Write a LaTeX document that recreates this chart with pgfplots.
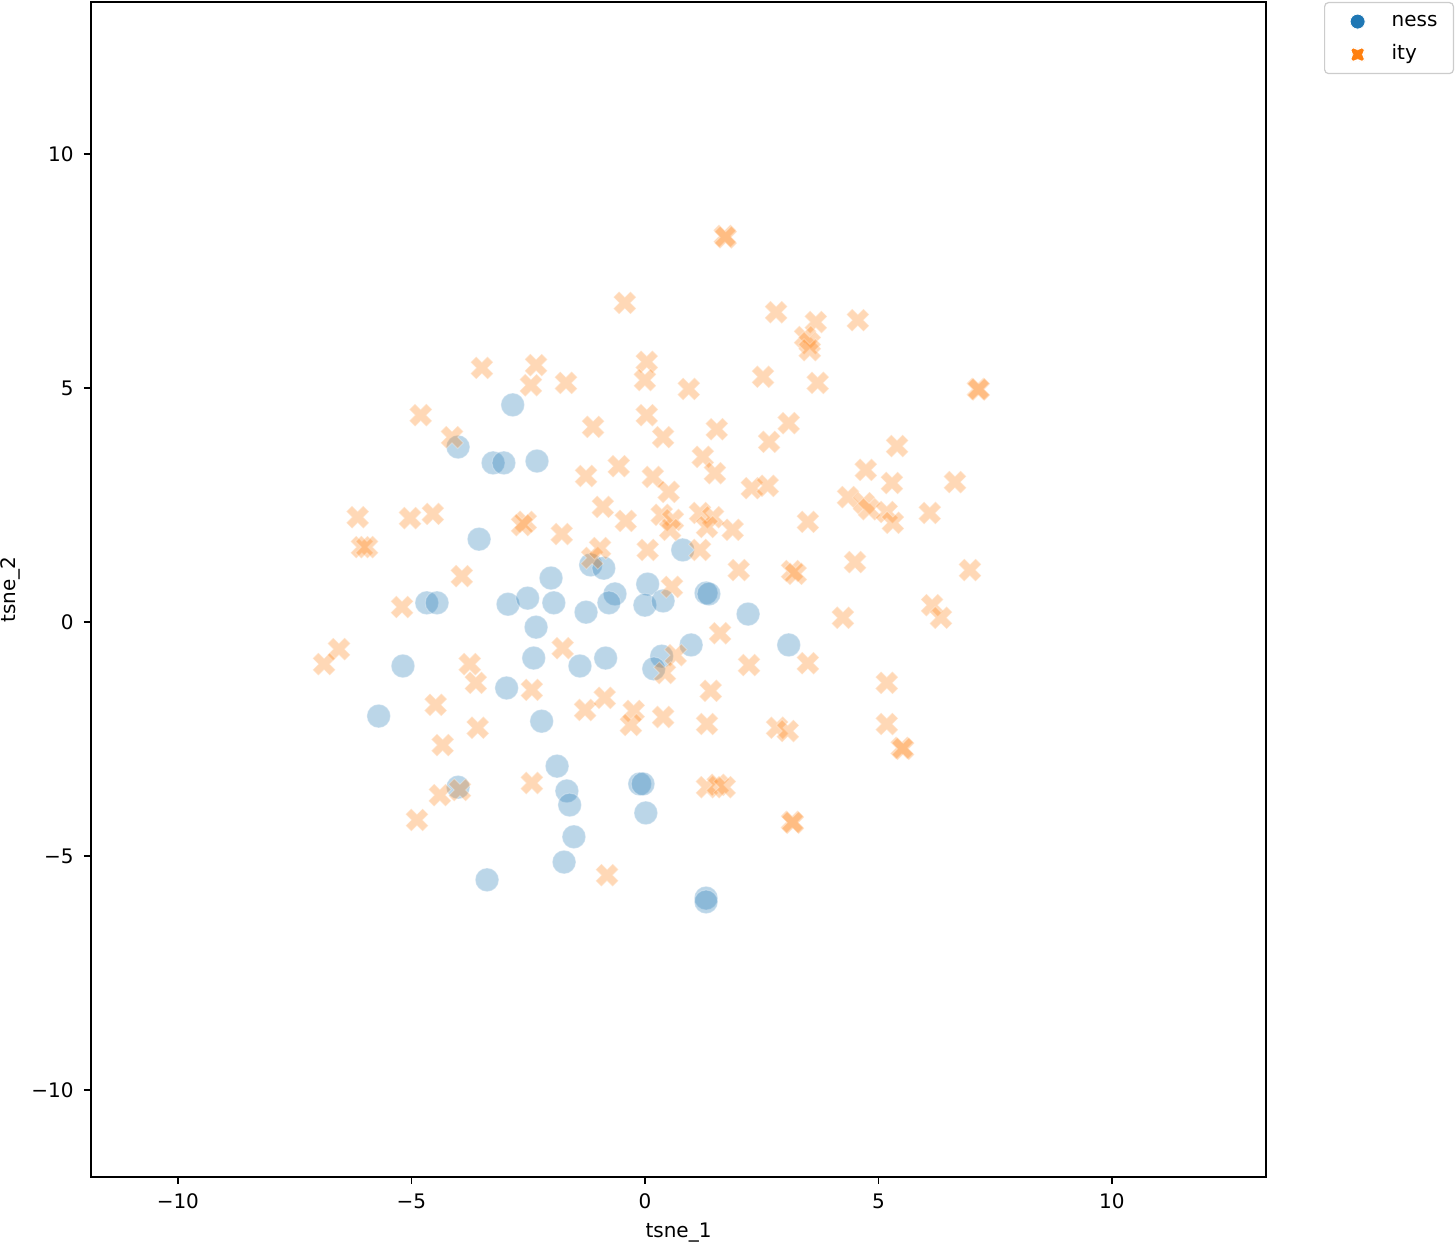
\documentclass[border=0pt]{standalone}
\usepackage{fontspec}
\setmainfont{DejaVu Sans}
\usepackage{pgfplots}
\pgfplotsset{compat=1.18}
\definecolor{c0}{HTML}{1F77B4}
\definecolor{c1}{HTML}{FF7F0E}
\definecolor{lgray}{HTML}{CCCCCC}
\pgfplotsset{myleg/.style={legend image code/.code={\draw[##1] plot coordinates {(8.5pt,0pt)}; \path[draw=none,fill=none] (0pt,0pt) (17pt,0pt);}}}
\pgfdeclareplotmark{Xf}{%
  \pgfscope
  \pgftransformrotate{45}%
  \pgfpathmoveto{\pgfqpoint{-0.3333\pgfplotmarksize}{-\pgfplotmarksize}}%
  \pgfpathlineto{\pgfqpoint{0.3333\pgfplotmarksize}{-\pgfplotmarksize}}%
  \pgfpathlineto{\pgfqpoint{0.3333\pgfplotmarksize}{-0.3333\pgfplotmarksize}}%
  \pgfpathlineto{\pgfqpoint{\pgfplotmarksize}{-0.3333\pgfplotmarksize}}%
  \pgfpathlineto{\pgfqpoint{\pgfplotmarksize}{0.3333\pgfplotmarksize}}%
  \pgfpathlineto{\pgfqpoint{0.3333\pgfplotmarksize}{0.3333\pgfplotmarksize}}%
  \pgfpathlineto{\pgfqpoint{0.3333\pgfplotmarksize}{\pgfplotmarksize}}%
  \pgfpathlineto{\pgfqpoint{-0.3333\pgfplotmarksize}{\pgfplotmarksize}}%
  \pgfpathlineto{\pgfqpoint{-0.3333\pgfplotmarksize}{0.3333\pgfplotmarksize}}%
  \pgfpathlineto{\pgfqpoint{-\pgfplotmarksize}{0.3333\pgfplotmarksize}}%
  \pgfpathlineto{\pgfqpoint{-\pgfplotmarksize}{-0.3333\pgfplotmarksize}}%
  \pgfpathlineto{\pgfqpoint{-0.3333\pgfplotmarksize}{-0.3333\pgfplotmarksize}}%
  \pgfpathclose
  \pgfusepath{fill,stroke}%
  \endpgfscope
}
\begin{document}
\begin{tikzpicture}
\useasboundingbox (0,0) rectangle (727.5pt,622.5pt);
\begin{axis}[
  at={(45.5pt,34pt)}, anchor=south west,
  scale only axis, width=587.5pt, height=587.5pt,
  xmin=-11.86, xmax=13.3, ymin=-11.86, ymax=13.25,
  axis line style={line width=0.8pt},
  tick align=outside, major tick length=3.5pt,
  every tick/.style={black, line width=0.8pt},
  xtick pos=bottom, ytick pos=left,
  xtick={-10,-5,0,5,10}, xticklabels={−10,−5,0,5,10},
  ytick={-10,-5,0,5,10}, yticklabels={−10,−5,0,5,10},
  xticklabel style={anchor=base, inner sep=0pt, yshift=-12.5pt},
  yticklabel style={anchor=east, inner sep=0pt, xshift=-5pt},
  xlabel={tsne\_1}, ylabel={tsne\_2},
  every axis x label/.style={at={(axis description cs:0.5,0)}, anchor=base, yshift=-30.5pt, inner sep=0pt},
  every axis y label/.style={at={(axis description cs:0,0.5)}, xshift=-40.5pt, rotate=90, anchor=center, inner sep=0pt},
  legend style={at={(1,1)}, anchor=north west, xshift=29pt, draw=lgray, line width=0.6pt,
    rounded corners=2pt, fill=white, inner xsep=8pt, inner ysep=4.5pt, row sep=6.5pt,
    column sep=8.5pt, nodes={inner sep=0pt, text height=7.5pt, text depth=2.5pt},
    cells={anchor=west}, font=\fontsize{10}{12}\selectfont},
]
\addlegendimage{only marks, mark=*, mark size=3.75pt, color=c0, mark options={fill=c0, draw=white, line width=0.4pt}, myleg}
\addlegendentry{ness}
\addlegendimage{only marks, mark=Xf, mark size=4.4pt, color=c1, mark options={fill=c1, draw=white, line width=0.4pt}, myleg}
\addlegendentry{ity}

\addplot[only marks, mark=*, mark size=5.9pt, forget plot,
  mark options={fill=c0, draw=white, line width=0.5pt, fill opacity=0.3, draw opacity=0.3}]
table {
x y
-2.83 4.64
-4.00 3.74
-3.25 3.40
-3.02 3.40
-2.31 3.44
-3.55 1.77
0.81 1.54
-2.01 0.94
-1.16 1.22
-0.88 1.15
-0.64 0.60
0.06 0.81
-4.67 0.41
-4.45 0.41
-2.93 0.38
-2.51 0.51
-1.95 0.41
-1.26 0.21
-0.77 0.41
0.00 0.36
0.39 0.45
1.31 0.62
1.37 0.60
2.21 0.17
-2.33 -0.11
3.08 -0.49
0.99 -0.49
0.36 -0.73
-2.38 -0.77
-1.39 -0.94
-0.84 -0.77
-5.18 -0.94
0.19 -1.00
-2.96 -1.41
-5.70 -2.01
-2.21 -2.12
-1.88 -3.08
-4.00 -3.53
-1.67 -3.61
-1.61 -3.91
-0.11 -3.46
-0.04 -3.46
0.02 -4.08
-1.52 -4.59
-1.73 -5.13
-3.38 -5.51
1.31 -5.90
1.31 -5.98
};

\addplot[only marks, mark=Xf, mark size=6pt, forget plot,
  mark options={fill=c1, draw=white, line width=0.5pt, fill opacity=0.3, draw opacity=0.3}]
table {
x y
1.71 8.25
1.73 8.22
2.81 6.62
3.66 6.41
3.43 6.09
3.53 5.96
3.53 5.81
4.56 6.45
-0.43 6.82
0.04 5.56
0.00 5.17
0.94 4.98
2.53 5.24
3.70 5.11
7.13 4.98
7.15 4.97
0.04 4.42
0.39 3.95
1.54 4.12
3.08 4.25
2.66 3.85
1.24 3.53
1.50 3.18
0.17 3.10
0.51 2.78
5.40 3.76
4.73 3.25
5.29 2.97
6.64 2.99
2.29 2.86
2.63 2.91
4.35 2.67
4.69 2.54
4.80 2.41
5.18 2.35
5.31 2.12
6.10 2.33
0.36 2.29
0.60 2.18
0.54 1.97
1.18 2.33
1.46 2.24
1.33 2.03
1.88 1.97
3.49 2.14
0.06 1.54
1.18 1.54
2.01 1.11
3.15 1.09
3.23 1.03
4.50 1.28
6.96 1.11
-3.49 5.43
-2.33 5.49
-2.44 5.06
-1.69 5.11
-4.80 4.42
-4.13 3.95
-1.11 4.17
-0.56 3.33
-1.26 3.12
-0.90 2.46
-0.41 2.16
-6.15 2.24
-5.03 2.22
-4.54 2.31
-2.55 2.14
-2.63 2.07
-1.78 1.88
-6.06 1.60
-5.95 1.60
-1.13 1.37
-0.96 1.58
-3.92 0.98
-5.20 0.32
-6.55 -0.58
-6.87 -0.90
-3.75 -0.90
-3.62 -1.30
-1.76 -0.56
-2.42 -1.45
-4.48 -1.77
-3.58 -2.26
-4.33 -2.63
-1.28 -1.88
-0.86 -1.62
-0.24 -1.90
-0.30 -2.20
-2.42 -3.44
-4.39 -3.70
-3.96 -3.59
-4.88 -4.23
-0.81 -5.41
0.58 0.75
6.15 0.36
6.34 0.09
4.24 0.09
1.61 -0.24
0.66 -0.71
0.43 -1.09
2.23 -0.92
3.49 -0.88
1.41 -1.47
5.18 -1.30
0.39 -2.03
1.33 -2.18
2.83 -2.26
3.06 -2.33
5.18 -2.18
5.50 -2.69
5.53 -2.71
1.33 -3.53
1.56 -3.48
1.71 -3.53
3.15 -4.27
3.17 -4.29
};
\end{axis}
\end{tikzpicture}
\end{document}
